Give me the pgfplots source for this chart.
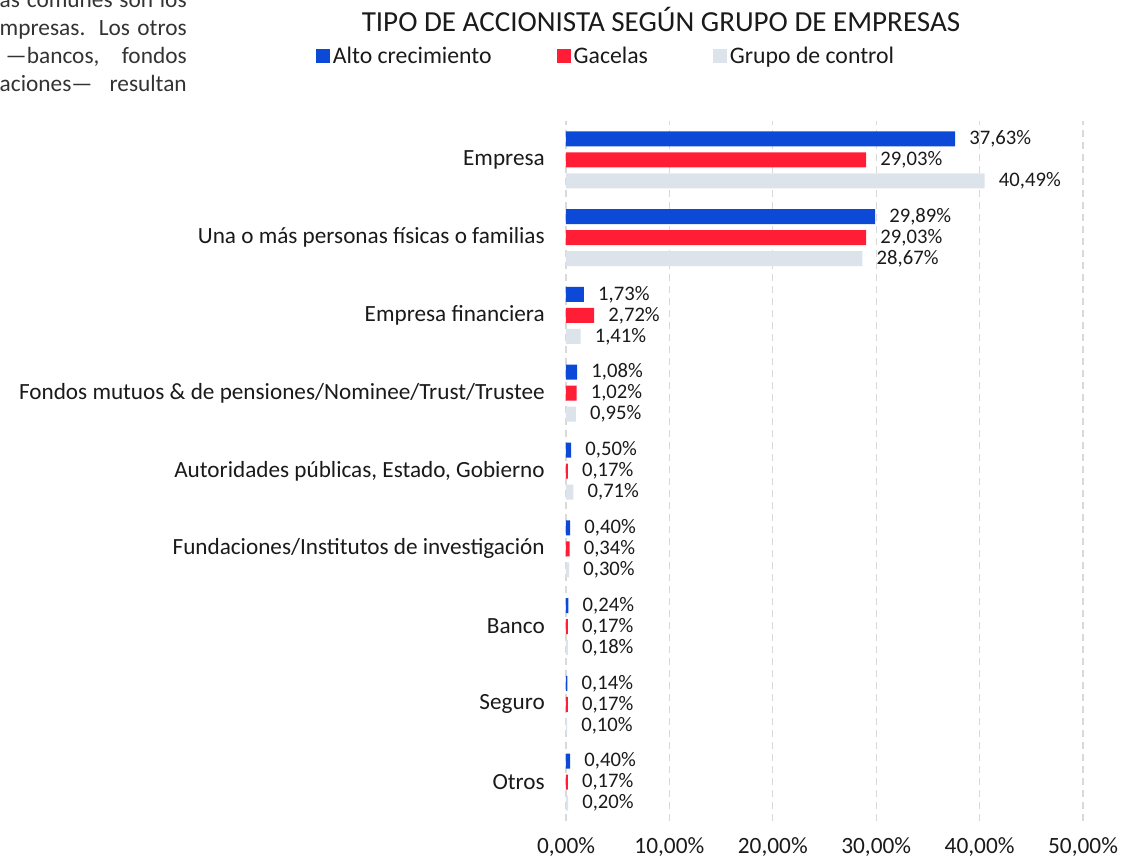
\documentclass[border=0pt]{standalone}
\usepackage{fontspec}
\setmainfont{Carlito}
\usepackage{pgfplots}
\pgfplotsset{compat=1.18}
\definecolor{cblue}{HTML}{0B49D6}
\definecolor{cred}{HTML}{FF1E35}
\definecolor{cgray}{HTML}{DCE3EB}
\definecolor{ctext}{HTML}{1A1A1A}
\begin{document}
\begin{tikzpicture}
\path[use as bounding box] (0,0) rectangle (851.25pt,645.75pt);
\begin{scope}[every node/.style={anchor=base east, inner sep=0pt, font=\fontsize{17.5}{21}\selectfont, text=black!80}]
\node at (140.25pt,639.75pt) {\makebox[140.25pt][s]{as comunes son los}};
\node at (140.25pt,618.75pt) {\makebox[140.25pt][s]{mpresas. Los otros}};
\node at (140.25pt,597.75pt) {\makebox[135.75pt][s]{—bancos, fondos}};
\node at (140.25pt,576.75pt) {\makebox[140.25pt][s]{aciones— resultan}};
\end{scope}
\node[anchor=base, inner sep=0pt, font=\fontsize{21.8}{26}\selectfont, text=ctext] at (495.75pt,621.75pt) {TIPO DE ACCIONISTA SEGÚN GRUPO DE EMPRESAS};
\begin{axis}[
  at={(424.5pt,30pt)}, anchor=south west,
  scale only axis, width=387.75pt, height=525pt,
  xbar, bar width=11.25pt,
  xmin=0, xmax=50, ymin=-0.5, ymax=8.5,
  axis line style={draw=none}, major tick length=0pt,
  xmajorgrids, grid style={black!15, line width=1pt, dash pattern=on 5pt off 4pt},
  xtick={0,10,...,50},
  /pgf/number format/.cd, use comma, fixed, fixed zerofill, precision=2, assume math mode=true,
  /pgfplots/.cd,
  xticklabel={\pgfmathprintnumber{\tick}\%},
  xticklabel style={inner sep=0pt, anchor=north, yshift=-12pt, font=\fontsize{17.5}{21}\selectfont, text=ctext},
  ytick={0,...,8},
  yticklabels={Otros, Seguro, Banco, Fundaciones/Institutos de investigación, {Autoridades públicas, Estado, Gobierno}, Fondos mutuos \& de pensiones/Nominee/Trust/Trustee, Empresa financiera, Una o más personas físicas o familias, Empresa},
  yticklabel style={inner sep=0pt, anchor=east, xshift=-15.75pt, font=\fontsize{17.4}{21}\selectfont, text=ctext},
  point meta=x,
  nodes near coords={\pgfmathprintnumber{\pgfplotspointmeta}\%},
  nodes near coords style={anchor=west, inner sep=0pt, xshift=10.5pt, font=\fontsize{15.5}{19}\selectfont, text=ctext},
  legend columns=3,
  legend style={draw=none, fill=none, inner sep=0pt, at={(-0.4836,1.0925)}, anchor=west,
    font=\fontsize{17.8}{21}\selectfont, text=ctext,
    /tikz/every even column/.append style={column sep=47pt}},
  legend cell align=left,
  legend image code/.code={\fill[#1] (0pt,-5.25pt) rectangle (10.5pt,5.25pt);},
]
\addplot[fill=cblue, draw=none, bar shift=15.75pt] coordinates {
(37.63,8) (29.89,7) (1.73,6) (1.08,5) (0.50,4) (0.40,3) (0.24,2) (0.14,1) (0.40,0)};
\addplot[fill=cred, draw=none, bar shift=0pt] coordinates {
(29.03,8) (29.03,7) (2.72,6) (1.02,5) (0.17,4) (0.34,3) (0.17,2) (0.17,1) (0.17,0)};
\addplot[fill=cgray, draw=none, bar shift=-15.75pt] coordinates {
(40.49,8) (28.67,7) (1.41,6) (0.95,5) (0.71,4) (0.30,3) (0.18,2) (0.10,1) (0.20,0)};
\legend{Alto crecimiento, Gacelas, Grupo de control}
\end{axis}
\end{tikzpicture}
\end{document}
